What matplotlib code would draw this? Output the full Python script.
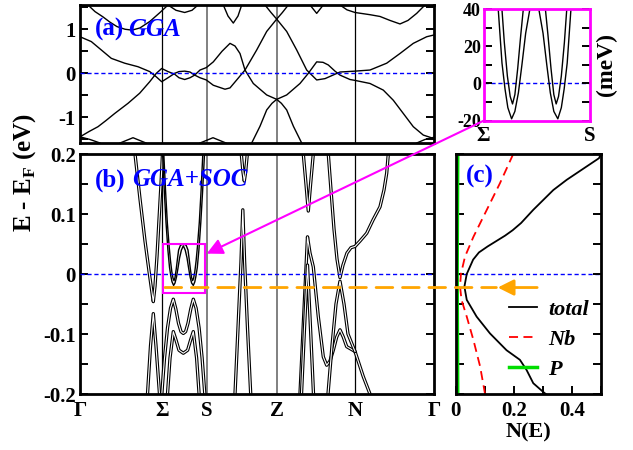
import numpy as np
import matplotlib
matplotlib.use('Agg')
import matplotlib.pyplot as plt
from matplotlib.patches import Rectangle, ConnectionPatch
from matplotlib.ticker import MultipleLocator, FuncFormatter

plt.rcParams['font.family'] = 'Liberation Serif'
plt.rcParams['font.weight'] = 'bold'
plt.rcParams['axes.labelweight'] = 'bold'
plt.rcParams['axes.unicode_minus'] = False
plt.rcParams['mathtext.fontset'] = 'custom'
plt.rcParams['mathtext.rm'] = 'Liberation Serif:bold'
plt.rcParams['mathtext.bf'] = 'Liberation Serif:bold'

# ------------------------------------------------------------
# k-path (distance along path, arbitrary units)
# ------------------------------------------------------------
kpts = [0, 81.7, 127, 196.7, 275, 354]
klabels = ['Γ', 'Σ', 'S', 'Z', 'N', 'Γ']

# ------------------------------------------------------------
# (a) GGA bands  (k, E in eV)
# ------------------------------------------------------------
a1_k = [8, 15, 23, 30, 37, 45, 52, 60, 70, 80, 88]
a1_e = [1.55, 1.40, 1.28, 1.16, 1.06, 1.00, 0.98, 1.03, 1.18, 1.38, 1.55]

a2_k = [0, 11.3, 21.3, 31.3, 44.7, 58, 69.7, 76.3, 81.7, 88, 94.7, 99, 104.7, 110, 114.7,
        120, 126.3, 133.3, 145, 150, 156.7, 165, 176.7, 186.7, 196.7, 206.7, 216.7, 226.7,
        236.7, 245, 252, 260, 275, 290, 306.7, 320, 333.3, 346.7, 354]
a2_e = [0.83, 0.72, 0.53, 0.34, 0.23, 0.15, 0.04, -0.08, -0.19, -0.10, 0.0, 0.04, 0.05, 0.03, -0.04,
        -0.10, -0.15, -0.27, -0.36, -0.33, -0.15, 0.075, 0.53, 0.95, 1.23, 0.95, 0.53, 0.075,
        -0.15, -0.12, -0.05, 0.03, 0.05, 0.075, 0.23, 0.45, 0.68, 0.83, 0.87]

a3_k = [0, 9, 18, 26, 34.7, 48, 59.7, 69.7, 76.3, 81.7, 88, 94.7, 99, 104.7, 110, 114.7,
        120, 126.3, 133.3, 142, 150, 155, 160, 165, 173.3, 186.7, 196.7, 206.7, 220, 228.3,
        236.7, 243, 248.3, 255, 260, 270, 275, 290, 303.3, 313.3, 323.3, 333.3, 343.3, 354]
a3_e = [-1.44, -1.32, -1.21, -1.07, -0.91, -0.68, -0.45, -0.19, 0.0, 0.11, 0.04, -0.02, -0.10, -0.14, -0.10, -0.04,
        0.075, 0.13, 0.26, 0.50, 0.68, 0.62, 0.45, 0.075, -0.23, -0.49, -0.59, -0.49, -0.23, 0.0,
        0.26, 0.25, 0.19, 0.05, -0.04, -0.14, -0.16, -0.23, -0.38, -0.61, -0.91, -1.21, -1.40, -1.48]

a4_k = [185, 191, 196.7, 202.4, 208.3]
a4_e = [1.55, 1.38, 1.23, 1.38, 1.55]

a5_k = [171.7, 180, 186.7, 192, 196.7, 201.4, 206.7, 213.4, 221.7]
a5_e = [-1.58, -1.20, -0.83, -0.68, -0.59, -0.68, -0.83, -1.20, -1.58]

a6_k = [88, 96, 104.7, 112, 118]
a6_e = [1.55, 1.43, 1.38, 1.43, 1.55]

a7_k = [143.3, 148, 153.3, 158, 161.7]
a7_e = [1.55, 1.30, 1.14, 1.30, 1.55]

a8_k = [230, 236.7, 243.3]
a8_e = [1.55, 1.36, 1.55]

a9_k = [260, 267, 275, 290, 300, 310, 320, 328, 336.7, 345]
a9_e = [1.55, 1.44, 1.38, 1.33, 1.29, 1.20, 1.12, 1.20, 1.36, 1.55]

a10_k = [40, 53, 66]
a10_e = [-1.58, -1.46, -1.58]
a11_k = [120, 133, 146]
a11_e = [-1.58, -1.46, -1.58]
a12_k = [336.7, 345, 354]
a12_e = [-1.58, -1.50, -1.45]
a13_k = [0, 10, 20]
a13_e = [-1.44, -1.50, -1.58]

# ------------------------------------------------------------
# (b) GGA+SOC bands  (k, E in eV)
# ------------------------------------------------------------
w_out_k = [82.6, 84.3, 86.0, 87.9, 89.5, 90.8, 92.0, 93.6, 95.0, 96.5, 98.0, 99.6, 101.4, 103.3,
           105.2, 107.0, 108.6, 110.1, 111.6, 113.3, 114.8, 116.0, 117.3, 118.9, 120.8, 122.6, 124.5]
w_out_e = [0.200, 0.138, 0.086, 0.040, 0.011, -0.003, -0.013, -0.019, -0.015, -0.005, 0.010, 0.027, 0.040, 0.047,
           0.040, 0.027, 0.010, -0.005, -0.015, -0.019, -0.013, -0.003, 0.011, 0.040, 0.086, 0.138, 0.200]

w_in_k = [83.8, 85.5, 87.3, 89.2, 90.5, 91.8, 93.0, 94.0, 95.0, 96.2, 97.5, 98.6, 100.5, 103.3,
          106.1, 108.0, 109.1, 110.4, 111.6, 112.6, 113.6, 114.8, 116.1, 117.4, 119.3, 121.1, 122.8]
w_in_e = [0.200, 0.140, 0.086, 0.045, 0.022, 0.004, -0.007, -0.011, -0.006, 0.008, 0.026, 0.040, 0.048, 0.050,
          0.048, 0.040, 0.026, 0.008, -0.006, -0.011, -0.007, 0.004, 0.022, 0.045, 0.086, 0.140, 0.200]

b_v_k = [55, 60, 65, 69, 71.5, 73.3, 75, 77, 79, 81, 82.5]
b_v_e = [0.2, 0.125, 0.055, 0.005, -0.025, -0.046, -0.02, 0.03, 0.09, 0.15, 0.2]

b_lam0_k = [67.5, 70.5, 73.3, 76, 79.5]
b_lam0_e = [-0.2, -0.12, -0.066, -0.12, -0.2]

b_m1_k = [81.8, 84.5, 87.5, 90.5, 93.3, 95.8, 98.5, 101, 103.3, 105.6, 108, 110.8, 113.3, 116.1, 119.1, 122.1, 124.8]
b_m1_e = [-0.2, -0.14, -0.09, -0.057, -0.042, -0.058, -0.082, -0.096, -0.099, -0.096, -0.082, -0.058, -0.042, -0.057, -0.09, -0.14, -0.2]

b_m2_k = [87.5, 90, 93.3, 96, 99, 103.3, 107.6, 110.6, 113.3, 116.6, 119.1]
b_m2_e = [-0.2, -0.14, -0.096, -0.11, -0.127, -0.132, -0.127, -0.11, -0.096, -0.14, -0.2]

b_lam1_k = [155, 158, 161, 162.8, 164.6, 167.5, 170.7]
b_lam1_e = [-0.2, -0.09, 0.02, 0.107, 0.02, -0.09, -0.2]

b_vtop_k = [161.3, 163, 164.3, 165.6, 167.3]
b_vtop_e = [0.2, 0.17, 0.155, 0.17, 0.2]

b_v2_k = [223.3, 226, 228.3, 230.6, 233.3]
b_v2_e = [0.2, 0.15, 0.105, 0.15, 0.2]

b_lam2_k = [220, 224, 227.5, 230, 233.3, 238.3, 243.3, 246.7, 250, 253.3, 256.7, 260, 263.3, 266.7, 275, 283.3, 290]
b_lam2_e = [-0.2, -0.06, 0.062, 0.035, 0.012, -0.071, -0.138, -0.152, -0.145, -0.127, -0.105, -0.093, -0.105, -0.121, -0.129, -0.171, -0.2]

b_lam2i_k = [221.5, 224.5, 227.5, 230.5, 233.5]
b_lam2i_e = [-0.2, -0.09, 0.015, -0.09, -0.2]

b_g1_k = [248, 252, 256, 260, 264, 268, 275]
b_g1_e = [-0.2, -0.12, -0.05, -0.012, -0.05, -0.1, -0.129]

b_d_k = [248.3, 251, 254, 257, 260, 263, 267, 271, 275, 280, 286.7, 293, 300, 304, 306.7, 308.3]
b_d_e = [0.2, 0.14, 0.075, 0.025, -0.006, 0.015, 0.035, 0.044, 0.046, 0.055, 0.068, 0.09, 0.112, 0.14, 0.168, 0.2]

# ------------------------------------------------------------
# (c) density of states  (E in eV, N(E))
# ------------------------------------------------------------
tot_e = [0.2, 0.193, 0.157, 0.14, 0.107, 0.085, 0.073, 0.064, 0.055, 0.046, 0.036, 0.024, 0.012, 0.0, -0.021,
         -0.043, -0.071, -0.099, -0.127, -0.143, -0.16, -0.182, -0.196, -0.2]
tot_n = [0.5, 0.493, 0.382, 0.336, 0.267, 0.225, 0.196, 0.170, 0.140, 0.110, 0.080, 0.060, 0.049, 0.038, 0.030,
         0.038, 0.072, 0.118, 0.175, 0.221, 0.244, 0.267, 0.30, 0.31]

nb_e = [0.2, 0.151, 0.107, 0.062, 0.029, 0.0, -0.021, -0.043, -0.071, -0.11, -0.154, -0.2]
nb_n = [0.198, 0.152, 0.107, 0.061, 0.032, 0.018, 0.015, 0.020, 0.038, 0.061, 0.084, 0.101]

p_e = [0.2, 0.1, 0.0, -0.1, -0.2]
p_n = [0.007, 0.006, 0.005, 0.006, 0.007]

e_gap = -0.0225   # pseudogap marker (orange)

# ============================================================
fig = plt.figure(figsize=(6.33, 4.5), dpi=100)
ax_a = fig.add_axes([0.1264, 0.6822, 0.5592, 0.3067])
ax_b = fig.add_axes([0.1264, 0.1244, 0.5592, 0.5333])
ax_c = fig.add_axes([0.7199, 0.1244, 0.2295, 0.5333])
ax_in = fig.add_axes([0.7641, 0.7318, 0.1679, 0.2482])

fmt = FuncFormatter(lambda v, p: '0' if abs(v) < 1e-9 else '%g' % v)
BLUE = '#0000ff'


def frame(ax, color='k'):
    for s in ax.spines.values():
        s.set_linewidth(2.0)
        s.set_color(color)
    ax.tick_params(which='both', direction='in', length=6, width=1.4,
                   labelsize=15, pad=3, color='k')


def sym_lines(ax):
    for k in kpts[1:-1]:
        if k in (127, 196.7):
            ax.axvline(k, color='#808080', lw=1.4, zorder=1)
        else:
            ax.axvline(k, color='k', lw=0.9, zorder=1)
    ax.axhline(0, color=BLUE, lw=1.0, ls=(0, (3, 2)), zorder=6)


# --- (a) GGA ---
frame(ax_a)
ax_a.set_xlim(0, 354)
ax_a.set_ylim(-1.58, 1.55)
ax_a.set_xticks([])
ax_a.yaxis.set_major_locator(MultipleLocator(1))
ax_a.yaxis.set_minor_locator(MultipleLocator(0.5))
ax_a.yaxis.set_major_formatter(fmt)
ax_a.tick_params(axis='y', which='both', left=True, right=True)
sym_lines(ax_a)
for k, e in [(a1_k, a1_e), (a2_k, a2_e), (a3_k, a3_e), (a4_k, a4_e), (a5_k, a5_e),
             (a6_k, a6_e), (a7_k, a7_e), (a8_k, a8_e), (a9_k, a9_e), (a10_k, a10_e),
             (a11_k, a11_e), (a12_k, a12_e), (a13_k, a13_e)]:
    ax_a.plot(k, e, color='k', lw=1.0, zorder=2)
ax_a.text(0.042, 0.82, '(a)', transform=ax_a.transAxes, color=BLUE, fontsize=18, va='center')
ax_a.text(0.137, 0.82, 'GGA', transform=ax_a.transAxes, color=BLUE, fontsize=18,
          style='italic', va='center')

# --- (b) GGA+SOC ---
frame(ax_b)
ax_b.set_xlim(0, 354)
ax_b.set_ylim(-0.2, 0.2)
ax_b.set_xticks(kpts)
ax_b.set_xticklabels(klabels, fontsize=15)
ax_b.tick_params(axis='x', length=0, pad=5)
ax_b.yaxis.set_major_locator(MultipleLocator(0.1))
ax_b.yaxis.set_minor_locator(MultipleLocator(0.05))
ax_b.yaxis.set_major_formatter(fmt)
ax_b.tick_params(axis='y', which='both', left=True, right=True)
sym_lines(ax_b)
for k, e in [(b_v_k, b_v_e), (b_lam0_k, b_lam0_e), (b_m1_k, b_m1_e), (b_m2_k, b_m2_e),
             (b_lam1_k, b_lam1_e), (b_vtop_k, b_vtop_e), (b_v2_k, b_v2_e),
             (b_lam2_k, b_lam2_e), (b_lam2i_k, b_lam2i_e), (b_g1_k, b_g1_e), (b_d_k, b_d_e)]:
    # SOC-split pairs drawn as a double line
    ax_b.plot(k, e, color='k', lw=2.4, zorder=2)
    ax_b.plot(k, e, color='w', lw=0.8, zorder=2)
ax_b.plot(w_out_k, w_out_e, color='k', lw=1.0, zorder=3)
ax_b.plot(w_in_k, w_in_e, color='k', lw=1.0, zorder=3)
ax_b.add_patch(Rectangle((83.3, -0.031), 41.7, 0.0805, fill=False, ec='magenta', lw=1.5, zorder=7))
ax_b.text(0.042, 0.892, '(b)', transform=ax_b.transAxes, color=BLUE, fontsize=18, va='center')
ax_b.text(0.147, 0.892, 'GGA+SOC', transform=ax_b.transAxes, color=BLUE, fontsize=18,
          style='italic', va='center')

# --- (c) DOS ---
frame(ax_c)
ax_c.set_xlim(0, 0.5)
ax_c.set_ylim(-0.2, 0.2)
ax_c.xaxis.set_major_locator(MultipleLocator(0.2))
ax_c.xaxis.set_minor_locator(MultipleLocator(0.1))
ax_c.xaxis.set_major_formatter(fmt)
ax_c.yaxis.set_major_locator(MultipleLocator(0.1))
ax_c.yaxis.set_minor_locator(MultipleLocator(0.05))
ax_c.tick_params(axis='y', which='both', left=True, right=True, labelleft=False)
ax_c.tick_params(axis='x', pad=5)
ax_c.axhline(0, color=BLUE, lw=1.0, ls=(0, (3, 2)), zorder=1)
ax_c.plot(tot_n, tot_e, color='k', lw=1.3, label='total')
ax_c.plot(nb_n, nb_e, color='red', lw=1.3, ls=(0, (5, 3)), label='Nb')
ax_c.plot(p_n, p_e, color='#00dd00', lw=2.5, label='P')
ax_c.set_xlabel('N(E)', fontsize=16, fontweight='bold', labelpad=1)
ax_c.text(0.069, 0.908, '(c)', transform=ax_c.transAxes, color=BLUE, fontsize=18, va='center')
ax_c.legend(loc='upper left', bbox_to_anchor=(0.367, 0.395), frameon=False,
            prop={'style': 'italic', 'weight': 'bold', 'size': 16},
            handlelength=1.25, handletextpad=0.5, labelspacing=0.42,
            borderpad=0, borderaxespad=0)
ax_c.annotate('', xy=(0.135, e_gap), xytext=(0.29, e_gap),
              arrowprops=dict(arrowstyle='-|>', color='#ffa500', lw=2, mutation_scale=24))

# --- inset: zoom on Sigma-S near E_F (meV) ---
frame(ax_in, color='magenta')
ax_in.set_xlim(kpts[1], kpts[2])
ax_in.set_ylim(-20, 40)
ax_in.set_xticks([kpts[1], kpts[2]])
ax_in.set_xticklabels(['Σ', 'S'], fontsize=15)
ax_in.tick_params(axis='x', length=0, pad=4)
ax_in.yaxis.set_major_locator(MultipleLocator(20))
ax_in.yaxis.set_minor_locator(MultipleLocator(10))
ax_in.yaxis.set_major_formatter(fmt)
ax_in.tick_params(axis='y', which='both', left=True, right=True, labelsize=13, pad=2)
ax_in.axhline(0, color=BLUE, lw=1.0, ls=(0, (3, 2)), zorder=1)
ax_in.plot(w_out_k, np.array(w_out_e) * 1000, color='k', lw=1.0)
ax_in.plot(w_in_k, np.array(w_in_e) * 1000, color='k', lw=1.0)
ax_in.yaxis.set_label_position('right')
ax_in.set_ylabel('(meV)', fontsize=17, fontweight='bold', rotation=90, labelpad=4)

# --- labels and connecting arrows ---
fig.text(25 / 633, 1 - 173 / 450, 'E - E$_\\mathrm{F}$ (eV)', rotation=90,
         fontsize=18, ha='center', va='center')

con = ConnectionPatch(xyA=(0, 0), coordsA=ax_in.transAxes,
                      xyB=(126.7, 0.034), coordsB=ax_b.transData,
                      arrowstyle='-|>', color='magenta', lw=1.5, mutation_scale=24, zorder=8)
fig.add_artist(con)

dash = ConnectionPatch(xyA=(85, e_gap), coordsA=ax_b.transData,
                       xyB=(0.14, e_gap), coordsB=ax_c.transData,
                       color='#ffa500', lw=2, linestyle=(0, (6, 3.5)), zorder=8)
fig.add_artist(dash)

fig.savefig('out.png', dpi=100)
